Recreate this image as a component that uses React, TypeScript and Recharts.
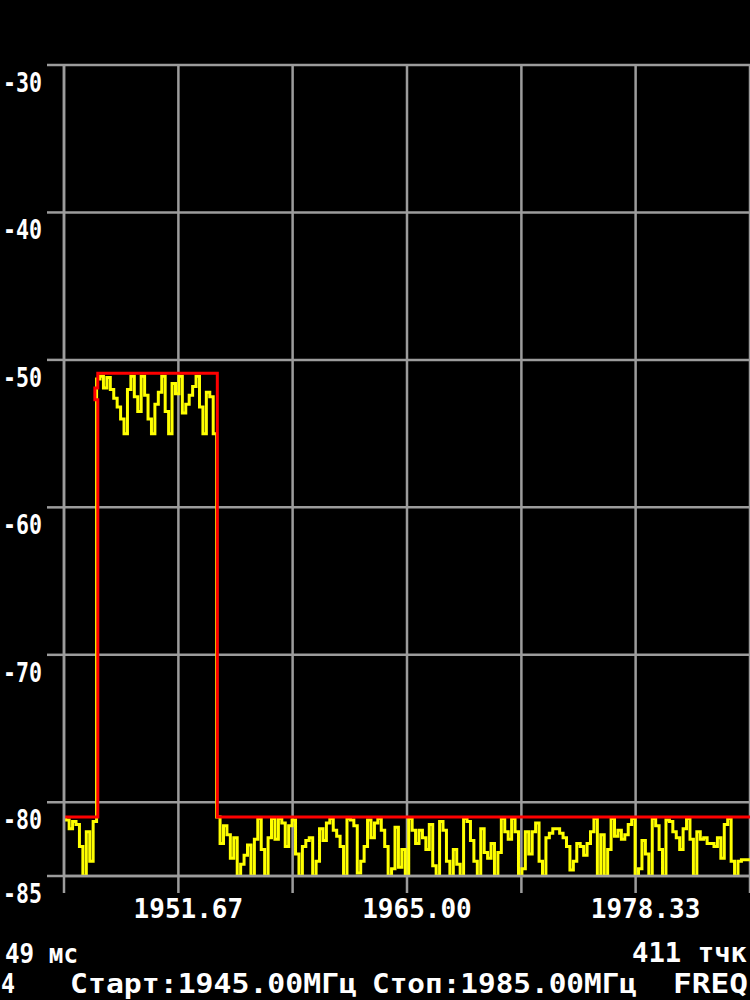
import { CartesianGrid, Line, LineChart, XAxis, YAxis } from "recharts";

// sweep: 1945 .. 1985 MHz, trace read at 0.2 MHz steps
const sweepStart = 1945;
const sweepStep = 0.2;

// live trace (dBm), yellow
const leftFloor = [-81.1, -81.2, -81.8, -81.3, -81.5, -83.0, -85.0, -82.0, -84.0, -81.3];
const channelTop = [
    -51.3, -51.1, -51.9, -51.2, -52.0, -52.6, -53.2, -54.0, -55.0, -52.0,
    -51.1, -52.5, -53.5, -51.1, -52.4, -54.0, -55.0, -53.0, -52.2, -51.1,
    -53.5, -55.0, -51.6, -52.3, -51.1, -53.6, -53.0, -52.4, -51.8, -51.1,
    -53.2, -55.0, -52.2, -52.5, -55.0,
];
const floorA = [
    -81.0, -82.8, -81.6, -82.2, -83.8, -82.4, -85.0, -84.2, -83.6, -82.9,
    -85.0, -82.5, -81.1, -83.2, -85.0, -82.4, -81.1, -82.5, -81.1, -81.4,
    -83.0, -81.6, -81.2, -83.5, -85.0, -83.0, -82.6, -82.4, -85.0, -84.0,
    -81.8, -82.6, -81.4, -81.1, -81.9, -82.3, -83.0, -85.0, -81.1, -81.2,
    -81.6, -84.8, -84.0, -83.0, -81.2, -82.4, -81.4, -81.1, -81.9, -83.0,
    -85.0, -84.5, -81.7, -84.4, -83.2, -85.0, -81.1, -81.9, -82.8, -81.9,
    -82.4, -83.2, -81.5, -84.3, -85.0, -81.3, -81.9, -84.0, -85.0, -83.2,
    -84.2, -85.0, -81.1, -81.3, -82.6, -84.0, -85.0, -81.8, -83.4, -83.8,
];
const floorB = [
    -82.8, -85.0, -83.4, -81.1, -82.0, -82.5, -81.1, -82.0, -85.0, -84.5,
    -82.0, -83.5, -82.0, -81.4, -84.0, -85.0, -82.4, -82.1, -81.8, -81.8,
    -82.1, -82.4, -83.0, -84.6, -84.0, -82.8, -83.0, -83.6, -82.8, -82.0,
    -81.1, -85.0, -82.2, -85.0, -83.2, -81.1, -82.3, -81.9, -82.5, -82.2,
    -81.5, -81.1, -85.0, -84.5, -82.6, -83.5, -85.0, -81.1, -81.6, -83.2,
    -85.0, -81.2, -81.3, -82.0, -82.4, -83.2, -81.8, -81.1, -82.5, -85.0,
    -82.0, -82.5, -82.4, -82.8, -82.8, -83.0, -82.4, -83.8, -81.5, -81.1,
    -84.0, -85.0, -84.0, -83.9, -83.9, -83.9,
];

// max hold (red)
const holdFreqs = [1945, 1946.97, 1946.97, 1946.8, 1946.8, 1946.97, 1946.97, 1953.94, 1953.94, 1985];
const holdLevels = [-81, -81, -52.7, -52.7, -51.9, -51.9, -50.9, -50.9, -81, -81];

const yTicks = [-30, -40, -50, -60, -70, -80, -85];
const xTicks = [1945, 1951.67, 1958.33, 1965, 1971.67, 1978.33, 1985];
const xLabelled = [1951.67, 1965, 1978.33];

const tracePoints = [...leftFloor, ...channelTop, ...floorA, ...floorB].map((v, i) => ({
    f: +(sweepStart + i * sweepStep).toFixed(2),
    v,
}));
const holdPoints = holdFreqs.map((f, i) => ({ f, v: holdLevels[i] }));

const GRID = "#9c9c9c";
const FONT = "DejaVu Sans Mono";

const YTick = ({ y, payload }: any) => (
    <text
        x={3}
        y={y + 27}
        textLength={39}
        lengthAdjust="spacingAndGlyphs"
        fill="#fff"
        fontFamily={FONT}
        fontWeight="bold"
        fontSize={26}
    >
        {payload.value}
    </text>
);

const XTick = ({ x, payload }: any) => {
    if (!xLabelled.some((t) => Math.abs(t - payload.value) < 0.01)) return <g />;
    return (
        <text
            x={x + 10}
            y={918}
            textAnchor="middle"
            fill="#fff"
            fontFamily={FONT}
            fontWeight="bold"
            fontSize={26}
        >
            {payload.value.toFixed(2)}
        </text>
    );
};

const Footer = () => (
    <svg
        width={750}
        height={1000}
        style={{ position: "absolute", left: 0, top: 0, pointerEvents: "none" }}
        fontFamily={FONT}
        fontWeight="bold"
        fontSize={26}
        fill="#fff"
    >
        <text x={5} y={963} textLength={73} lengthAdjust="spacingAndGlyphs">49 мс</text>
        <text x={632} y={962} textLength={115} lengthAdjust="spacingAndGlyphs">411 тчк</text>
        <text x={1} y={993} textLength={14} lengthAdjust="spacingAndGlyphs">4</text>
        <text x={70} y={993} textLength={287} lengthAdjust="spacingAndGlyphs">Старт:1945.00МГц</text>
        <text x={372} y={993} textLength={265} lengthAdjust="spacingAndGlyphs">Стоп:1985.00МГц</text>
        <text x={673} y={993} textLength={75} lengthAdjust="spacingAndGlyphs">FREQ</text>
    </svg>
);

export default function App() {
    return (
        <div
            style={{
                position: "absolute",
                left: 0,
                top: 0,
                width: 750,
                height: 1000,
                background: "#000",
                overflow: "hidden",
            }}
        >
            <LineChart width={750} height={1000} margin={{ top: 65, right: 0, bottom: 0, left: 0 }}>
                <CartesianGrid stroke={GRID} strokeWidth={2.5} />
                <XAxis
                    dataKey="f"
                    type="number"
                    domain={[1945, 1985]}
                    ticks={xTicks}
                    interval={0}
                    height={124}
                    tickSize={17}
                    axisLine={{ stroke: GRID, strokeWidth: 2.5 }}
                    tickLine={{ stroke: GRID, strokeWidth: 2.5 }}
                    tick={XTick}
                    allowDataOverflow
                />
                <YAxis
                    type="number"
                    domain={[-85, -30]}
                    ticks={yTicks}
                    interval={0}
                    width={64}
                    tickSize={17}
                    axisLine={{ stroke: GRID, strokeWidth: 2.5 }}
                    tickLine={{ stroke: GRID, strokeWidth: 2.5 }}
                    tick={YTick}
                    allowDataOverflow
                />
                <Line
                    data={tracePoints}
                    dataKey="v"
                    type="step"
                    stroke="#ffff00"
                    strokeWidth={3}
                    strokeLinejoin="miter"
                    dot={false}
                    isAnimationActive={false}
                />
                <Line
                    data={holdPoints}
                    dataKey="v"
                    type="linear"
                    stroke="#ff0000"
                    strokeWidth={3}
                    dot={false}
                    isAnimationActive={false}
                />
            </LineChart>
            <Footer />
        </div>
    );
}
